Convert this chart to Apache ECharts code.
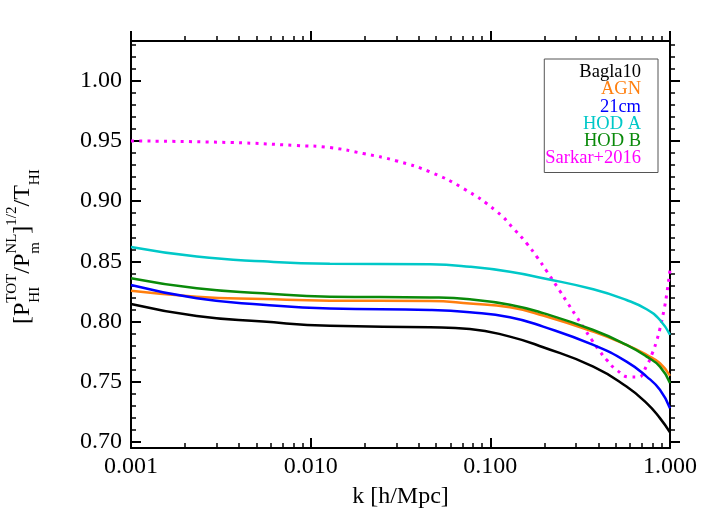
<!DOCTYPE html>
<html><head><meta charset="utf-8">
<script src="https://cdn.jsdelivr.net/npm/echarts@6/dist/echarts.min.js"></script>
<style>html,body{margin:0;padding:0;background:#fff}#c{width:709px;height:532px}</style>
</head><body><div id="c"></div>
<script>
// k [h/Mpc] sample points for the model curves
const kMain = [0.001, 0.002323, 0.005433, 0.01279, 0.04613, 0.07691, 0.1285, 0.1968, 0.3741, 0.5728, 0.7413, 0.8790, 1.0];
const bagla10 = [0.8146, 0.8046, 0.8000, 0.7965, 0.7953, 0.7939, 0.7875, 0.7787, 0.7626, 0.7460, 0.7323, 0.7198, 0.7080];
const agn     = [0.8256, 0.8207, 0.8187, 0.8173, 0.8171, 0.8150, 0.8118, 0.8050, 0.7916, 0.7806, 0.7723, 0.7654, 0.7550];
const cm21    = [0.8303, 0.8193, 0.8140, 0.8108, 0.8096, 0.8077, 0.8036, 0.7958, 0.7806, 0.7667, 0.7543, 0.7433, 0.7280];
const hodA    = [0.8620, 0.8540, 0.8500, 0.8480, 0.8475, 0.8455, 0.8414, 0.8360, 0.8268, 0.8179, 0.8102, 0.8013, 0.7890];
const hodB    = [0.8360, 0.8276, 0.8235, 0.8207, 0.8200, 0.8185, 0.8140, 0.8070, 0.7930, 0.7806, 0.7709, 0.7626, 0.7490];
// Sarkar+2016 (dotted)
const kSarkar = [0.001, 0.003556, 0.008356, 0.01279, 0.01963, 0.03013, 0.04613, 0.07079, 0.1084, 0.1371, 0.1592, 0.1811, 0.2056, 0.2438, 0.2704, 0.3020, 0.3289, 0.3664, 0.4074, 0.4436, 0.5047, 0.5984, 0.6653, 0.7413, 0.7998, 0.8414, 0.8790, 0.9247, 0.9572, 1.0];
const sarkar2016 = [0.9500, 0.9487, 0.9462, 0.9445, 0.9395, 0.9334, 0.9243, 0.9105, 0.8915, 0.8760, 0.8650, 0.8540, 0.8420, 0.8254, 0.8150, 0.8040, 0.7955, 0.7849, 0.7752, 0.7682, 0.7598, 0.7539, 0.7539, 0.7633, 0.7742, 0.7837, 0.7942, 0.8092, 0.8220, 0.8430];

const seriesNames = ['Bagla10', 'AGN', '21cm', 'HOD A', 'HOD B', 'Sarkar+2016'];
const seriesColors = ['#000000', '#ff7f0e', '#0000ff', '#00c8c8', '#0a8a0a', '#ff00ff'];

const xTickLabels = [0.001, 0.01, 0.1, 1];
const xMinorTicks = [0.002,0.003,0.004,0.005,0.006,0.007,0.008,0.009,
                     0.02,0.03,0.04,0.05,0.06,0.07,0.08,0.09,
                     0.2,0.3,0.4,0.5,0.6,0.7,0.8,0.9];
const yTickLabels = [0.70, 0.75, 0.80, 0.85, 0.90, 0.95, 1.00];
const yMinorTicks = [0.71,0.72,0.73,0.74,0.76,0.77,0.78,0.79,0.81,0.82,0.83,0.84,
                     0.86,0.87,0.88,0.89,0.91,0.92,0.93,0.94,0.96,0.97,0.98,0.99,1.01,1.02,1.03];

const FONT = 'Liberation Serif';
const Y_MIN = 0.695, Y_MAX = 1.033;

const chart = echarts.init(document.getElementById('c'), null, {renderer: 'canvas'});

const majorTick = (vals, inside) => ({show: true, inside: inside, length: 10, customValues: vals, lineStyle: {color: '#000', width: 2}});
const minorTick = (vals, inside) => ({show: true, inside: inside, length: 5, customValues: vals, lineStyle: {color: '#000', width: 1.5}});
const axisLine = {show: true, onZero: false, lineStyle: {color: '#000', width: 2}};

const xAxes = [
  {type: 'log', logBase: 10, min: 0.001, max: 1, position: 'bottom',
   axisLine: axisLine, axisTick: majorTick(xTickLabels, true), splitLine: {show: false},
   axisLabel: {show: true, customValues: xTickLabels, margin: 7, fontFamily: FONT, fontSize: 24, color: '#000',
               showMinLabel: true, showMaxLabel: true, formatter: v => Number(v).toFixed(3)},
   name: 'k [h/Mpc]', nameLocation: 'middle', nameGap: 37,
   nameTextStyle: {fontFamily: FONT, fontSize: 24, color: '#000'}},
  {type: 'value', min: -3, max: 0, position: 'bottom', axisLine: {show: false, onZero: false},
   axisTick: minorTick(xMinorTicks.map(Math.log10), true), axisLabel: {show: false}, splitLine: {show: false}},
  {type: 'log', logBase: 10, min: 0.001, max: 1, position: 'top',
   axisLine: axisLine, axisTick: majorTick(xTickLabels, false), axisLabel: {show: false}, splitLine: {show: false}},
  {type: 'value', min: -3, max: 0, position: 'top', axisLine: {show: false, onZero: false},
   axisTick: minorTick(xMinorTicks.map(Math.log10), false), axisLabel: {show: false}, splitLine: {show: false}}
];
const yAxes = [
  {type: 'value', min: Y_MIN, max: Y_MAX, position: 'left', axisLine: axisLine,
   axisTick: majorTick(yTickLabels, true), splitLine: {show: false},
   axisLabel: {show: true, customValues: yTickLabels, margin: 9, fontFamily: FONT, fontSize: 24, color: '#000',
               formatter: v => Number(v).toFixed(2)}},
  {type: 'value', min: Y_MIN, max: Y_MAX, position: 'left', axisLine: {show: false, onZero: false},
   axisTick: minorTick(yMinorTicks, true), axisLabel: {show: false}, splitLine: {show: false}},
  {type: 'value', min: Y_MIN, max: Y_MAX, position: 'right', axisLine: axisLine,
   axisTick: majorTick(yTickLabels, false), axisLabel: {show: false}, splitLine: {show: false}},
  {type: 'value', min: Y_MIN, max: Y_MAX, position: 'right', axisLine: {show: false, onZero: false},
   axisTick: minorTick(yMinorTicks, false), axisLabel: {show: false}, splitLine: {show: false}}
];

const mainData = [bagla10, agn, cm21, hodA, hodB];
const series = mainData.map((vals, i) => ({
  name: seriesNames[i], type: 'line', xAxisIndex: 0, yAxisIndex: 0,
  data: kMain.map((k, j) => [k, vals[j]]),
  smooth: 0.5, symbol: 'none', showSymbol: false,
  lineStyle: {color: seriesColors[i], width: 2.5}, itemStyle: {color: seriesColors[i]},
  z: 3, animation: false
}));
series.push({
  name: seriesNames[5], type: 'line', xAxisIndex: 0, yAxisIndex: 0,
  data: kSarkar.map((k, j) => [k, sarkar2016[j]]),
  smooth: 0.5, symbol: 'none', showSymbol: false,
  lineStyle: {color: seriesColors[5], width: 3, type: [3, 5.3], cap: 'butt'},
  itemStyle: {color: seriesColors[5]}, z: 2, animation: false
});

// y-axis title with sub/superscripts (rotated)
const M = 24, S = 15, SUP = -11, SUB = 12;
const yTitleParts = [
  {t: '[P', u: 0, y: 0, f: M}, {t: 'TOT', u: 21.3, y: SUP, f: S}, {t: 'HI', u: 21.3, y: SUB, f: S},
  {t: '/P', u: 50.3, y: 0, f: M}, {t: 'NL', u: 70.3, y: SUP, f: S}, {t: 'm', u: 70.3, y: SUB, f: S},
  {t: ']', u: 90.3, y: 0, f: M}, {t: '1/2', u: 98.3, y: SUP, f: S},
  {t: '/T', u: 117.5, y: 0, f: M}, {t: 'HI', u: 138.8, y: SUB, f: S}
];

chart.setOption({
  animation: false,
  backgroundColor: '#fff',
  grid: {left: 131, top: 41, right: 39, bottom: 84, containLabel: false},
  xAxis: xAxes,
  yAxis: yAxes,
  legend: {
    orient: 'vertical', align: 'right', right: 51, top: 59,
    padding: [4, 12, 5, 1], itemWidth: 0, itemHeight: 0, itemGap: -1.9,
    icon: 'rect', itemStyle: {opacity: 0}, lineStyle: {opacity: 0},
    borderColor: '#555', borderWidth: 1, backgroundColor: '#fff',
    selectedMode: false,
    textStyle: {fontFamily: FONT, fontSize: 18.5, lineHeight: 17.2},
    data: seriesNames.map((n, i) => ({name: n, textStyle: {color: seriesColors[i]}}))
  },
  graphic: [{
    type: 'group', x: 23, y: 324, rotation: Math.PI / 2,
    children: yTitleParts.map(p => ({
      type: 'text', x: p.u, y: p.y,
      style: {text: p.t, fontFamily: FONT, fontSize: p.f, fill: '#000', align: 'left', verticalAlign: 'middle'}
    }))
  }],
  series: series
});
</script>
</body></html>
